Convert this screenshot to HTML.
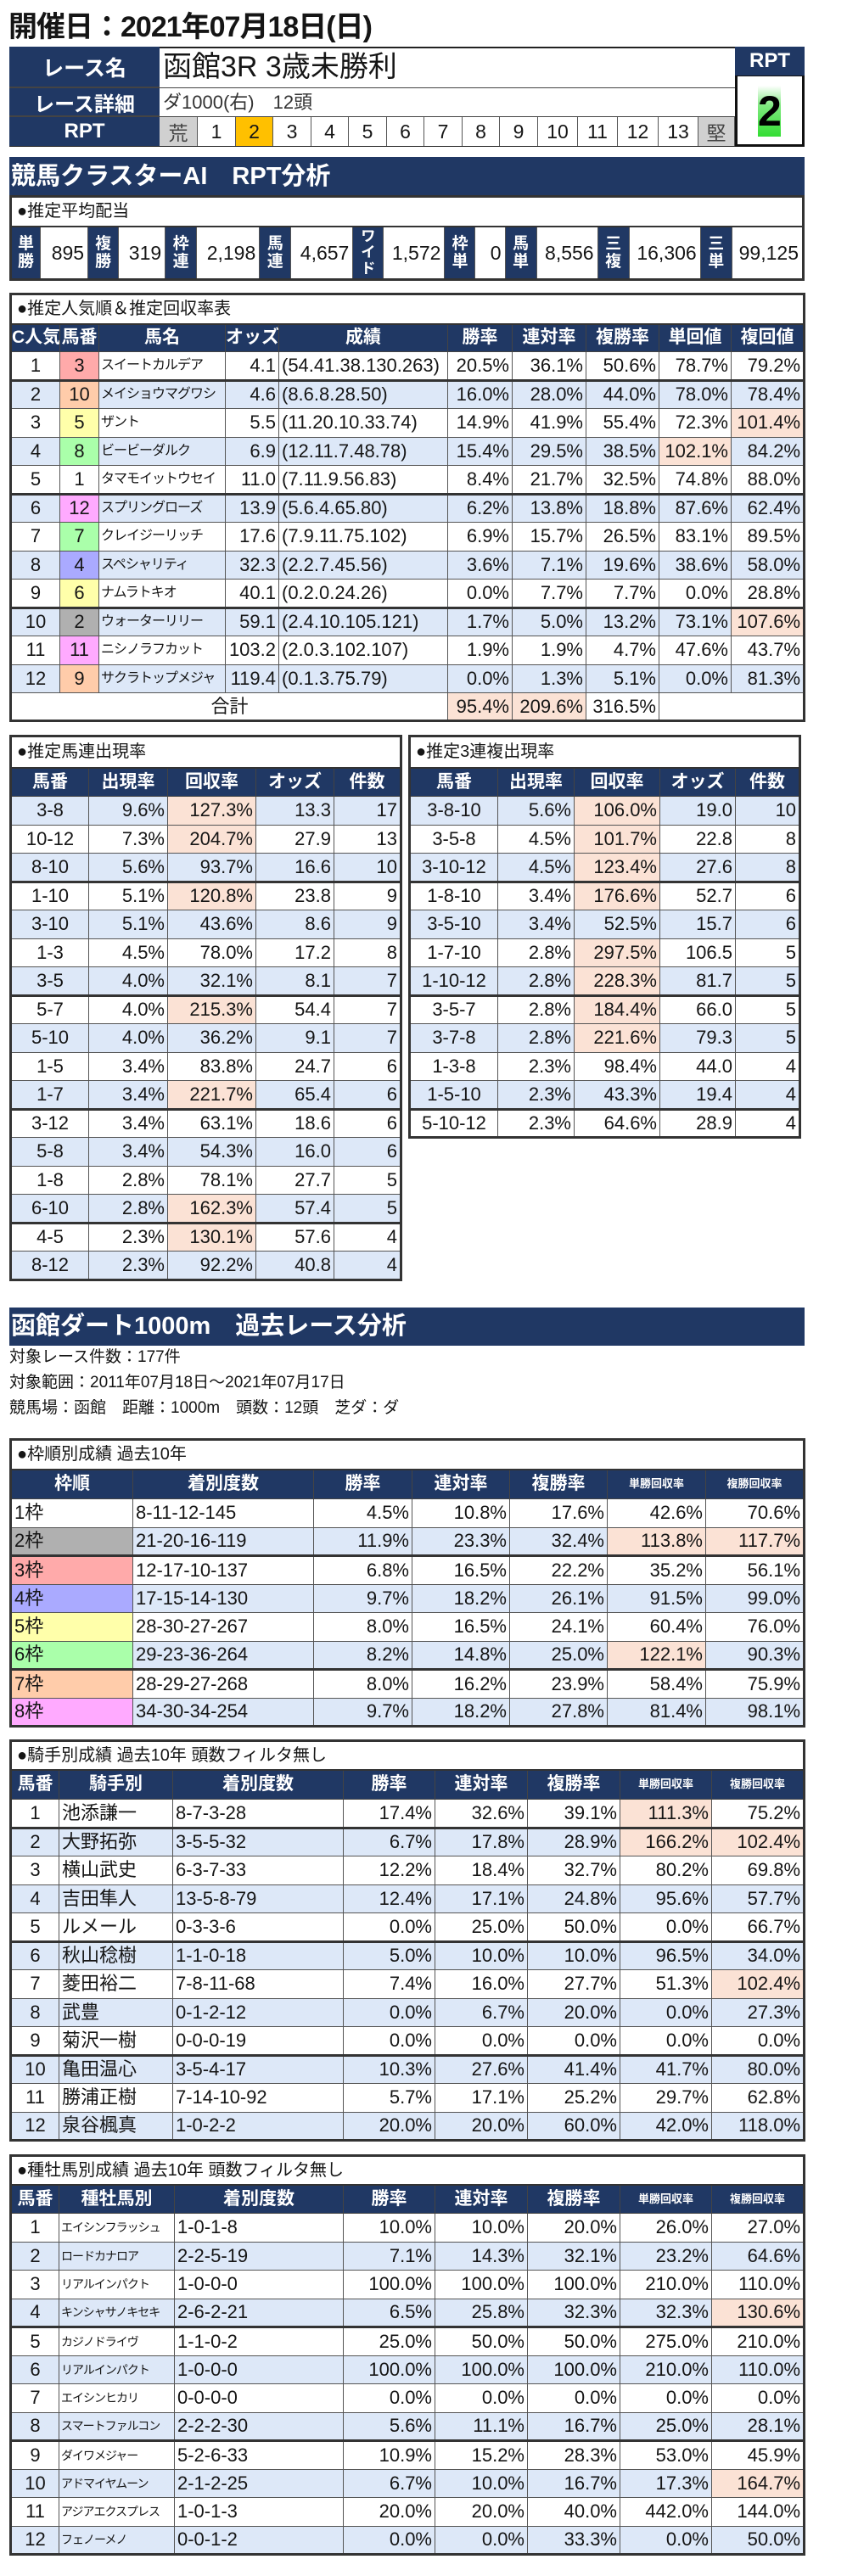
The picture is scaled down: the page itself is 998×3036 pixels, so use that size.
<!DOCTYPE html>
<html><head><meta charset="utf-8">
<style>
body{margin:0;width:998px;height:3036px;position:relative;background:#fff;font-family:"Liberation Sans Narrow","Liberation Sans","Noto Sans CJK JP",sans-serif;color:#151515;overflow:hidden}
.a{position:absolute;box-sizing:border-box}
table{border-collapse:collapse;table-layout:fixed;position:absolute;left:11px;border:3px solid #333}
td{border:1px solid #555;padding:0 3px;white-space:nowrap;overflow:hidden;font-size:22px;line-height:22px;text-align:right;box-sizing:border-box}
th{background:#203864;color:#fff;font-weight:bold;font-size:21px;line-height:22px;border:1px solid #444;text-align:center;white-space:nowrap;overflow:hidden;padding:0}
th.s{font-size:13px}
tr{height:33.5px}
tr.b td{background:#dde8f8}
td.p,tr.b td.p{background:#fbe2d5}
td.c{text-align:center}
td.l{text-align:left}
td.n{font-size:16px;letter-spacing:-1px;text-align:left;padding-left:2px}
td.m{font-size:14px;letter-spacing:-1px;text-align:left;padding-left:2px}
tr.k td{border-top:3px solid #333}
td.lab{text-align:left;font-size:20px;background:#fff;padding-left:6px;border-bottom:2px solid #333}
.nv{background:#203864;color:#fff;font-weight:bold;display:flex;align-items:center;justify-content:center}
.cell{border-right:1px solid #555;display:flex;align-items:center;justify-content:center;font-size:23px;height:34px;top:138px;background:#fff}
.f1{background:#fff}.f2{background:#b0b0b0}.f3{background:#ffaaaa}.f4{background:#aaaaff}.f5{background:#ffffaa}.f6{background:#aaffaa}.f7{background:#ffccaa}.f8{background:#ffaaff}
tr.b td.f1{background:#fff}tr.b td.f2{background:#b0b0b0}tr.b td.f3{background:#ffaaaa}tr.b td.f4{background:#aaaaff}tr.b td.f5{background:#ffffaa}tr.b td.f6{background:#aaffaa}tr.b td.f7{background:#ffccaa}tr.b td.f8{background:#ffaaff}
.pv{height:63px}
.pv td{font-size:23px;text-align:right;padding-right:4px}
.pv td.h{background:#203864;color:#fff;font-weight:bold;font-size:19px;line-height:21px;text-align:center;padding:0}
.txt{font-size:19px;left:11px}
</style></head><body>

<div class="a" style="left:10px;top:8px;font-size:34px;font-weight:bold;line-height:48px;letter-spacing:-1px">開催日：2021年07月18日(日)</div>

<div class="a" style="left:11px;top:55px;width:937px;height:118px;border:2px solid #222;background:#fff"></div>
<div class="a nv" style="left:11px;top:55px;width:177px;height:49px;font-size:25px;border-bottom:2px solid #444">レース名</div>
<div class="a nv" style="left:11px;top:104px;width:177px;height:34px;font-size:24px;border-bottom:2px solid #444">レース詳細</div>
<div class="a nv" style="left:11px;top:138px;width:177px;height:34px;font-size:24px">RPT</div>
<div class="a" style="left:188px;top:55px;width:678px;height:49px;font-size:34px;line-height:49px;padding-left:4px;border-bottom:1px solid #444">函館3R 3歳未勝利</div>
<div class="a" style="left:188px;top:104px;width:678px;height:34px;font-size:22px;line-height:34px;padding-left:4px;border-bottom:1px solid #444;color:#333">ダ1000(右)　12頭</div>
<div class="a cell" style="left:188px;width:45px;background:#d0d0d0;color:#444">荒</div>
<div class="a cell" style="left:233px;width:45px">1</div>
<div class="a cell" style="left:278px;width:44px;background:#ffc000">2</div>
<div class="a cell" style="left:322px;width:45px">3</div>
<div class="a cell" style="left:367px;width:44px">4</div>
<div class="a cell" style="left:411px;width:45px">5</div>
<div class="a cell" style="left:456px;width:44px">6</div>
<div class="a cell" style="left:500px;width:45px">7</div>
<div class="a cell" style="left:545px;width:44px">8</div>
<div class="a cell" style="left:589px;width:45px">9</div>
<div class="a cell" style="left:634px;width:47px">10</div>
<div class="a cell" style="left:681px;width:47px">11</div>
<div class="a cell" style="left:728px;width:48px">12</div>
<div class="a cell" style="left:776px;width:47px">13</div>
<div class="a cell" style="left:823px;width:43px;background:#d0d0d0;color:#444">堅</div>
<div class="a nv" style="left:866px;top:55px;width:82px;height:34px;font-size:24px">RPT</div>
<div class="a" style="left:866px;top:89px;width:82px;height:84px;border:3px solid #111;border-top:1px solid #111;background:#fff"></div>
<div class="a" style="left:893px;top:101px;width:27px;height:60px;background:linear-gradient(#ffffff,#7ee87e 40%,#33dd33);font-size:50px;font-weight:bold;line-height:60px;text-align:center;color:#000;overflow:visible">2</div>

<div class="a" style="left:11px;top:185px;width:937px;height:46px;background:#203864;color:#fff;font-size:29px;font-weight:bold;line-height:46px;padding-left:2px">競馬クラスターAI　RPT分析</div>

<table style="top:230px;width:937px">
<colgroup><col style="width:35px"><col style="width:56px"><col style="width:36px"><col style="width:55px"><col style="width:37px"><col style="width:74px"><col style="width:37px"><col style="width:73px"><col style="width:36px"><col style="width:72px"><col style="width:36px"><col style="width:35px"><col style="width:37px"><col style="width:72px"><col style="width:37px"><col style="width:84px"><col style="width:37px"><col style="width:84px"></colgroup>
<tr style="height:35px"><td colspan="18" class="lab">●推定平均配当</td></tr>
<tr class="pv"><td class="h">単<br>勝</td><td>895</td><td class="h">複<br>勝</td><td>319</td><td class="h">枠<br>連</td><td>2,198</td><td class="h">馬<br>連</td><td>4,657</td><td class="h" style="font-size:17px;line-height:19px">ワ<br>イ<br>ド</td><td>1,572</td><td class="h">枠<br>単</td><td>0</td><td class="h">馬<br>単</td><td>8,556</td><td class="h">三<br>複</td><td>16,306</td><td class="h">三<br>単</td><td>99,125</td></tr>
</table>

<table style="top:345px;width:937px">
<colgroup><col style="width:58px"><col style="width:46px"><col style="width:149px"><col style="width:63px"><col style="width:199px"><col style="width:76px"><col style="width:87px"><col style="width:86px"><col style="width:85px"><col style="width:86px"></colgroup>
<tr style="height:35px"><td colspan="10" class="lab">●推定人気順＆推定回収率表</td></tr>
<tr style="height:33px"><th>C人気</th><th>馬番</th><th>馬名</th><th>オッズ</th><th>成績</th><th>勝率</th><th>連対率</th><th>複勝率</th><th>単回値</th><th>複回値</th></tr>
<tr><td class="c">1</td><td class="c f3">3</td><td class="n">スイートカルデア</td><td>4.1</td><td class="l">(54.41.38.130.263)</td><td>20.5%</td><td>36.1%</td><td>50.6%</td><td>78.7%</td><td>79.2%</td></tr>
<tr class="b k"><td class="c">2</td><td class="c f7">10</td><td class="n">メイショウマグワシ</td><td>4.6</td><td class="l">(8.6.8.28.50)</td><td>16.0%</td><td>28.0%</td><td>44.0%</td><td>78.0%</td><td>78.4%</td></tr>
<tr><td class="c">3</td><td class="c f5">5</td><td class="n">ザント</td><td>5.5</td><td class="l">(11.20.10.33.74)</td><td>14.9%</td><td>41.9%</td><td>55.4%</td><td>72.3%</td><td class="p">101.4%</td></tr>
<tr class="b"><td class="c">4</td><td class="c f6">8</td><td class="n">ビービーダルク</td><td>6.9</td><td class="l">(12.11.7.48.78)</td><td>15.4%</td><td>29.5%</td><td>38.5%</td><td class="p">102.1%</td><td>84.2%</td></tr>
<tr><td class="c">5</td><td class="c f1">1</td><td class="n">タマモイットウセイ</td><td>11.0</td><td class="l">(7.11.9.56.83)</td><td>8.4%</td><td>21.7%</td><td>32.5%</td><td>74.8%</td><td>88.0%</td></tr>
<tr class="b k"><td class="c">6</td><td class="c f8">12</td><td class="n">スプリングローズ</td><td>13.9</td><td class="l">(5.6.4.65.80)</td><td>6.2%</td><td>13.8%</td><td>18.8%</td><td>87.6%</td><td>62.4%</td></tr>
<tr><td class="c">7</td><td class="c f6">7</td><td class="n">クレイジーリッチ</td><td>17.6</td><td class="l">(7.9.11.75.102)</td><td>6.9%</td><td>15.7%</td><td>26.5%</td><td>83.1%</td><td>89.5%</td></tr>
<tr class="b"><td class="c">8</td><td class="c f4">4</td><td class="n">スペシャリティ</td><td>32.3</td><td class="l">(2.2.7.45.56)</td><td>3.6%</td><td>7.1%</td><td>19.6%</td><td>38.6%</td><td>58.0%</td></tr>
<tr><td class="c">9</td><td class="c f5">6</td><td class="n">ナムラトキオ</td><td>40.1</td><td class="l">(0.2.0.24.26)</td><td>0.0%</td><td>7.7%</td><td>7.7%</td><td>0.0%</td><td>28.8%</td></tr>
<tr class="b k"><td class="c">10</td><td class="c f2">2</td><td class="n">ウォーターリリー</td><td>59.1</td><td class="l">(2.4.10.105.121)</td><td>1.7%</td><td>5.0%</td><td>13.2%</td><td>73.1%</td><td class="p">107.6%</td></tr>
<tr><td class="c">11</td><td class="c f8">11</td><td class="n">ニシノラフカット</td><td>103.2</td><td class="l">(2.0.3.102.107)</td><td>1.9%</td><td>1.9%</td><td>4.7%</td><td>47.6%</td><td>43.7%</td></tr>
<tr class="b"><td class="c">12</td><td class="c f7">9</td><td class="n">サクラトップメジャ</td><td>119.4</td><td class="l">(0.1.3.75.79)</td><td>0.0%</td><td>1.3%</td><td>5.1%</td><td>0.0%</td><td>81.3%</td></tr>
<tr style="height:33px"><td colspan="5" class="c">合計</td><td class="p">95.4%</td><td class="p">209.6%</td><td>316.5%</td><td colspan="2"></td></tr>
</table>

<table style="top:866px;width:460px">
<colgroup><col style="width:92px"><col style="width:93px"><col style="width:104px"><col style="width:92px"><col style="width:79px"></colgroup>
<tr style="height:37px"><td colspan="5" class="lab">●推定馬連出現率</td></tr>
<tr style="height:34px"><th>馬番</th><th>出現率</th><th>回収率</th><th>オッズ</th><th>件数</th></tr>
<tr class="b"><td class="c">3-8</td><td>9.6%</td><td class="p">127.3%</td><td>13.3</td><td>17</td></tr>
<tr><td class="c">10-12</td><td>7.3%</td><td class="p">204.7%</td><td>27.9</td><td>13</td></tr>
<tr class="b"><td class="c">8-10</td><td>5.6%</td><td>93.7%</td><td>16.6</td><td>10</td></tr>
<tr class="k"><td class="c">1-10</td><td>5.1%</td><td class="p">120.8%</td><td>23.8</td><td>9</td></tr>
<tr class="b"><td class="c">3-10</td><td>5.1%</td><td>43.6%</td><td>8.6</td><td>9</td></tr>
<tr><td class="c">1-3</td><td>4.5%</td><td>78.0%</td><td>17.2</td><td>8</td></tr>
<tr class="b"><td class="c">3-5</td><td>4.0%</td><td>32.1%</td><td>8.1</td><td>7</td></tr>
<tr class="k"><td class="c">5-7</td><td>4.0%</td><td class="p">215.3%</td><td>54.4</td><td>7</td></tr>
<tr class="b"><td class="c">5-10</td><td>4.0%</td><td>36.2%</td><td>9.1</td><td>7</td></tr>
<tr><td class="c">1-5</td><td>3.4%</td><td>83.8%</td><td>24.7</td><td>6</td></tr>
<tr class="b"><td class="c">1-7</td><td>3.4%</td><td class="p">221.7%</td><td>65.4</td><td>6</td></tr>
<tr class="k"><td class="c">3-12</td><td>3.4%</td><td>63.1%</td><td>18.6</td><td>6</td></tr>
<tr class="b"><td class="c">5-8</td><td>3.4%</td><td>54.3%</td><td>16.0</td><td>6</td></tr>
<tr><td class="c">1-8</td><td>2.8%</td><td>78.1%</td><td>27.7</td><td>5</td></tr>
<tr class="b"><td class="c">6-10</td><td>2.8%</td><td class="p">162.3%</td><td>57.4</td><td>5</td></tr>
<tr class="k"><td class="c">4-5</td><td>2.3%</td><td class="p">130.1%</td><td>57.6</td><td>4</td></tr>
<tr class="b"><td class="c">8-12</td><td>2.3%</td><td>92.2%</td><td>40.8</td><td>4</td></tr>
</table>

<table style="top:866px;left:481px;width:460px">
<colgroup><col style="width:104px"><col style="width:90px"><col style="width:101px"><col style="width:89px"><col style="width:76px"></colgroup>
<tr style="height:37px"><td colspan="5" class="lab">●推定3連複出現率</td></tr>
<tr style="height:34px"><th>馬番</th><th>出現率</th><th>回収率</th><th>オッズ</th><th>件数</th></tr>
<tr class="b"><td class="c">3-8-10</td><td>5.6%</td><td class="p">106.0%</td><td>19.0</td><td>10</td></tr>
<tr><td class="c">3-5-8</td><td>4.5%</td><td class="p">101.7%</td><td>22.8</td><td>8</td></tr>
<tr class="b"><td class="c">3-10-12</td><td>4.5%</td><td class="p">123.4%</td><td>27.6</td><td>8</td></tr>
<tr class="k"><td class="c">1-8-10</td><td>3.4%</td><td class="p">176.6%</td><td>52.7</td><td>6</td></tr>
<tr class="b"><td class="c">3-5-10</td><td>3.4%</td><td>52.5%</td><td>15.7</td><td>6</td></tr>
<tr><td class="c">1-7-10</td><td>2.8%</td><td class="p">297.5%</td><td>106.5</td><td>5</td></tr>
<tr class="b"><td class="c">1-10-12</td><td>2.8%</td><td class="p">228.3%</td><td>81.7</td><td>5</td></tr>
<tr class="k"><td class="c">3-5-7</td><td>2.8%</td><td class="p">184.4%</td><td>66.0</td><td>5</td></tr>
<tr class="b"><td class="c">3-7-8</td><td>2.8%</td><td class="p">221.6%</td><td>79.3</td><td>5</td></tr>
<tr><td class="c">1-3-8</td><td>2.3%</td><td>98.4%</td><td>44.0</td><td>4</td></tr>
<tr class="b"><td class="c">1-5-10</td><td>2.3%</td><td>43.3%</td><td>19.4</td><td>4</td></tr>
<tr class="k"><td class="c">5-10-12</td><td>2.3%</td><td>64.6%</td><td>28.9</td><td>4</td></tr>
</table>

<div class="a" style="left:11px;top:1541px;width:937px;height:45px;background:#203864;color:#fff;font-size:29px;font-weight:bold;line-height:45px;padding-left:2px">函館ダート1000m　過去レース分析</div>
<div class="a txt" style="top:1586px;line-height:28px">対象レース件数：177件</div>
<div class="a txt" style="top:1616px;line-height:28px">対象範囲：2011年07月18日～2021年07月17日</div>
<div class="a txt" style="top:1646px;line-height:28px">競馬場：函館　距離：1000m　頭数：12頭　芝ダ：ダ</div>

<table style="top:1695px;width:937px">
<colgroup><col style="width:144px"><col style="width:213px"><col style="width:116px"><col style="width:115px"><col style="width:115px"><col style="width:116px"><col style="width:116px"></colgroup>
<tr style="height:35px"><td colspan="7" class="lab">●枠順別成績 過去10年</td></tr>
<tr style="height:35px"><th>枠順</th><th>着別度数</th><th>勝率</th><th>連対率</th><th>複勝率</th><th class="s">単勝回収率</th><th class="s">複勝回収率</th></tr>
<tr><td class="l f1">1枠</td><td class="l">8-11-12-145</td><td>4.5%</td><td>10.8%</td><td>17.6%</td><td>42.6%</td><td>70.6%</td></tr>
<tr class="b"><td class="l f2">2枠</td><td class="l">21-20-16-119</td><td>11.9%</td><td>23.3%</td><td>32.4%</td><td class="p">113.8%</td><td class="p">117.7%</td></tr>
<tr class="k"><td class="l f3">3枠</td><td class="l">12-17-10-137</td><td>6.8%</td><td>16.5%</td><td>22.2%</td><td>35.2%</td><td>56.1%</td></tr>
<tr class="b"><td class="l f4">4枠</td><td class="l">17-15-14-130</td><td>9.7%</td><td>18.2%</td><td>26.1%</td><td>91.5%</td><td>99.0%</td></tr>
<tr><td class="l f5">5枠</td><td class="l">28-30-27-267</td><td>8.0%</td><td>16.5%</td><td>24.1%</td><td>60.4%</td><td>76.0%</td></tr>
<tr class="b"><td class="l f6">6枠</td><td class="l">29-23-36-264</td><td>8.2%</td><td>14.8%</td><td>25.0%</td><td class="p">122.1%</td><td>90.3%</td></tr>
<tr class="k"><td class="l f7">7枠</td><td class="l">28-29-27-268</td><td>8.0%</td><td>16.2%</td><td>23.9%</td><td>58.4%</td><td>75.9%</td></tr>
<tr class="b"><td class="l f8">8枠</td><td class="l">34-30-34-254</td><td>9.7%</td><td>18.2%</td><td>27.8%</td><td>81.4%</td><td>98.1%</td></tr>
</table>

<table style="top:2050px;width:937px">
<colgroup><col style="width:57px"><col style="width:134px"><col style="width:201px"><col style="width:108px"><col style="width:109px"><col style="width:109px"><col style="width:108px"><col style="width:109px"></colgroup>
<tr style="height:34px"><td colspan="8" class="lab">●騎手別成績 過去10年 頭数フィルタ無し</td></tr>
<tr style="height:35px"><th>馬番</th><th>騎手別</th><th>着別度数</th><th>勝率</th><th>連対率</th><th>複勝率</th><th class="s">単勝回収率</th><th class="s">複勝回収率</th></tr>
<tr><td class="c">1</td><td class="l">池添謙一</td><td class="l">8-7-3-28</td><td>17.4%</td><td>32.6%</td><td>39.1%</td><td class="p">111.3%</td><td>75.2%</td></tr>
<tr class="b k"><td class="c">2</td><td class="l">大野拓弥</td><td class="l">3-5-5-32</td><td>6.7%</td><td>17.8%</td><td>28.9%</td><td class="p">166.2%</td><td class="p">102.4%</td></tr>
<tr><td class="c">3</td><td class="l">横山武史</td><td class="l">6-3-7-33</td><td>12.2%</td><td>18.4%</td><td>32.7%</td><td>80.2%</td><td>69.8%</td></tr>
<tr class="b"><td class="c">4</td><td class="l">吉田隼人</td><td class="l">13-5-8-79</td><td>12.4%</td><td>17.1%</td><td>24.8%</td><td>95.6%</td><td>57.7%</td></tr>
<tr><td class="c">5</td><td class="l">ルメール</td><td class="l">0-3-3-6</td><td>0.0%</td><td>25.0%</td><td>50.0%</td><td>0.0%</td><td>66.7%</td></tr>
<tr class="b k"><td class="c">6</td><td class="l">秋山稔樹</td><td class="l">1-1-0-18</td><td>5.0%</td><td>10.0%</td><td>10.0%</td><td>96.5%</td><td>34.0%</td></tr>
<tr><td class="c">7</td><td class="l">菱田裕二</td><td class="l">7-8-11-68</td><td>7.4%</td><td>16.0%</td><td>27.7%</td><td>51.3%</td><td class="p">102.4%</td></tr>
<tr class="b"><td class="c">8</td><td class="l">武豊</td><td class="l">0-1-2-12</td><td>0.0%</td><td>6.7%</td><td>20.0%</td><td>0.0%</td><td>27.3%</td></tr>
<tr><td class="c">9</td><td class="l">菊沢一樹</td><td class="l">0-0-0-19</td><td>0.0%</td><td>0.0%</td><td>0.0%</td><td>0.0%</td><td>0.0%</td></tr>
<tr class="b k"><td class="c">10</td><td class="l">亀田温心</td><td class="l">3-5-4-17</td><td>10.3%</td><td>27.6%</td><td>41.4%</td><td>41.7%</td><td>80.0%</td></tr>
<tr><td class="c">11</td><td class="l">勝浦正樹</td><td class="l">7-14-10-92</td><td>5.7%</td><td>17.1%</td><td>25.2%</td><td>29.7%</td><td>62.8%</td></tr>
<tr class="b"><td class="c">12</td><td class="l">泉谷楓真</td><td class="l">1-0-2-2</td><td>20.0%</td><td>20.0%</td><td>60.0%</td><td>42.0%</td><td>118.0%</td></tr>
</table>

<table style="top:2539px;width:937px">
<colgroup><col style="width:57px"><col style="width:136px"><col style="width:199px"><col style="width:108px"><col style="width:109px"><col style="width:109px"><col style="width:108px"><col style="width:109px"></colgroup>
<tr style="height:34px"><td colspan="8" class="lab">●種牡馬別成績 過去10年 頭数フィルタ無し</td></tr>
<tr style="height:34px"><th>馬番</th><th>種牡馬別</th><th>着別度数</th><th>勝率</th><th>連対率</th><th>複勝率</th><th class="s">単勝回収率</th><th class="s">複勝回収率</th></tr>
<tr><td class="c">1</td><td class="m">エイシンフラッシュ</td><td class="l">1-0-1-8</td><td>10.0%</td><td>10.0%</td><td>20.0%</td><td>26.0%</td><td>27.0%</td></tr>
<tr class="b"><td class="c">2</td><td class="m">ロードカナロア</td><td class="l">2-2-5-19</td><td>7.1%</td><td>14.3%</td><td>32.1%</td><td>23.2%</td><td>64.6%</td></tr>
<tr><td class="c">3</td><td class="m">リアルインパクト</td><td class="l">1-0-0-0</td><td>100.0%</td><td>100.0%</td><td>100.0%</td><td>210.0%</td><td>110.0%</td></tr>
<tr class="b"><td class="c">4</td><td class="m">キンシャサノキセキ</td><td class="l">2-6-2-21</td><td>6.5%</td><td>25.8%</td><td>32.3%</td><td>32.3%</td><td class="p">130.6%</td></tr>
<tr class="k"><td class="c">5</td><td class="m">カジノドライヴ</td><td class="l">1-1-0-2</td><td>25.0%</td><td>50.0%</td><td>50.0%</td><td>275.0%</td><td>210.0%</td></tr>
<tr class="b"><td class="c">6</td><td class="m">リアルインパクト</td><td class="l">1-0-0-0</td><td>100.0%</td><td>100.0%</td><td>100.0%</td><td>210.0%</td><td>110.0%</td></tr>
<tr><td class="c">7</td><td class="m">エイシンヒカリ</td><td class="l">0-0-0-0</td><td>0.0%</td><td>0.0%</td><td>0.0%</td><td>0.0%</td><td>0.0%</td></tr>
<tr class="b"><td class="c">8</td><td class="m">スマートファルコン</td><td class="l">2-2-2-30</td><td>5.6%</td><td>11.1%</td><td>16.7%</td><td>25.0%</td><td>28.1%</td></tr>
<tr class="k"><td class="c">9</td><td class="m">ダイワメジャー</td><td class="l">5-2-6-33</td><td>10.9%</td><td>15.2%</td><td>28.3%</td><td>53.0%</td><td>45.9%</td></tr>
<tr class="b"><td class="c">10</td><td class="m">アドマイヤムーン</td><td class="l">2-1-2-25</td><td>6.7%</td><td>10.0%</td><td>16.7%</td><td>17.3%</td><td class="p">164.7%</td></tr>
<tr><td class="c">11</td><td class="m">アジアエクスプレス</td><td class="l">1-0-1-3</td><td>20.0%</td><td>20.0%</td><td>40.0%</td><td>442.0%</td><td>144.0%</td></tr>
<tr class="b"><td class="c">12</td><td class="m">フェノーメノ</td><td class="l">0-0-1-2</td><td>0.0%</td><td>0.0%</td><td>33.3%</td><td>0.0%</td><td>50.0%</td></tr>
</table>

</body></html>
